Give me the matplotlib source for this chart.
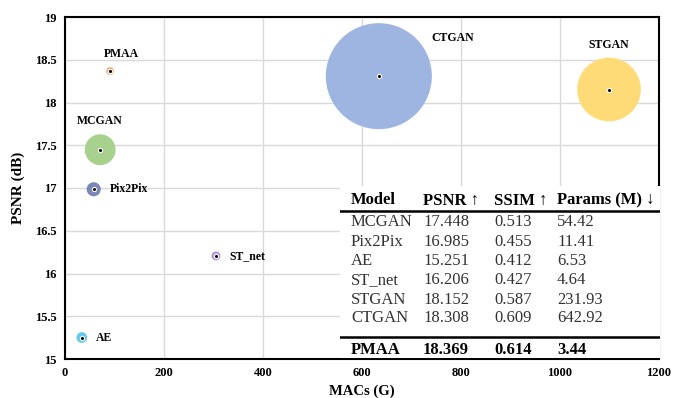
import matplotlib
matplotlib.use("Agg")
import matplotlib.pyplot as plt
import numpy as np

plt.rcParams['font.family'] = ['Liberation Serif', 'DejaVu Serif']

# bubble data: MACs (G), PSNR (dB), params (M)
models = ['MCGAN', 'Pix2Pix', 'AE', 'ST_net', 'STGAN', 'CTGAN', 'PMAA']
macs = [71, 58, 34, 305, 1099, 634, 91]
psnr = [17.448, 16.985, 15.251, 16.206, 18.152, 18.308, 18.369]
params = [54.42, 11.41, 6.53, 4.64, 231.93, 642.92, 3.44]
colors = ['#A9D18E', '#7887B5', '#62C9F1', '#B59BD9', '#FFDB78', '#9DB5E0', '#F4B183']

# table
tab_cols = ['Model', 'PSNR ↑', 'SSIM ↑', 'Params (M) ↓']
psnr_txt = ['17.448', '16.985', '15.251', '16.206', '18.152', '18.308', '18.369']
ssim_txt = ['0.513', '0.455', '0.412', '0.427', '0.587', '0.609', '0.614']
params_txt = ['54.42', '11.41', '6.53', '4.64', '231.93', '642.92', '3.44']

W, H = 680, 398
fig = plt.figure(figsize=(W/100, H/100), dpi=100)
ax = fig.add_axes([65/W, 1-359/H, 594/W, 342/H])

# label offsets in pixels, and alignment
lab_off = {'MCGAN': (0, 29, 'center'), 'Pix2Pix': (16, 0, 'left'), 'AE': (14, 0, 'left'),
           'ST_net': (13, 0, 'left'), 'STGAN': (0, 45, 'center'), 'CTGAN': (74, 38, 'center'),
           'PMAA': (11, 17, 'center')}

k = 9.06  # area per M params (pt^2)
for m, x, y, p, c in zip(models, macs, psnr, params, colors):
    ax.scatter(x, y, s=k*p, color=c, edgecolors='none', zorder=3)
    ax.scatter(x, y, s=9, color='black', edgecolors='white', linewidths=0.8, zorder=4)
    dx, dy, ha = lab_off[m]
    ax.annotate(m, (x, y), xytext=(dx, dy), textcoords='offset pixels',
                ha=ha, va='center', fontsize=8.5, fontweight='bold', zorder=5)

ax.set_xlim(0, 1200)
ax.set_ylim(15, 19)
ax.set_xticks(np.arange(0, 1201, 200))
ax.set_yticks(np.arange(15, 19.01, 0.5))
ax.set_yticklabels(['15', '15.5', '16', '16.5', '17', '17.5', '18', '18.5', '19'])
ax.grid(True, color='#D9D9D9', linewidth=1)
ax.set_axisbelow(True)
for s in ax.spines.values():
    s.set_linewidth(1.5)
ax.tick_params(length=0, labelsize=9, pad=6)
for t in ax.get_xticklabels() + ax.get_yticklabels():
    t.set_fontweight('bold')
ax.set_xlabel('MACs (G)', fontsize=10.5, fontweight='bold', labelpad=4)
ax.set_ylabel('PSNR (dB)', fontsize=11, fontweight='bold', labelpad=7)

# table overlay
tx0, tx1, ty0, ty1 = 340, 660, 186, 358
tax = fig.add_axes([tx0/W, 1-ty1/H, (tx1-tx0)/W, (ty1-ty0)/H])
tax.set_xlim(tx0, tx1)
tax.set_ylim(ty1, ty0)
tax.set_facecolor('white')
for s in tax.spines.values():
    s.set_visible(False)
tax.set_xticks([])
tax.set_yticks([])

col_x = [351, 423, 494, 557]
tsize = 12
base = 4.5  # baseline sits this many px below the row centre
for cx, h in zip(col_x, tab_cols):
    tax.text(cx, 200 + base, h, fontsize=tsize, fontweight='bold', va='baseline', ha='left')
row_y = [221.5, 241, 260.5, 280, 299, 318, 350]
for i, m in enumerate(models):
    fw = 'bold' if m == 'PMAA' else 'normal'
    cells = [m, psnr_txt[i], ssim_txt[i], params_txt[i]]
    for cx, val in zip(col_x, cells):
        tax.text(cx, row_y[i] + base, val, fontsize=tsize, fontweight=fw, va='baseline', ha='left',
                 color='black' if fw == 'bold' else '#333333')
tax.plot([tx0, tx1], [211, 211], color='black', linewidth=1.8)
tax.plot([tx0, tx1], [336.5, 336.5], color='black', linewidth=1.8)

fig.savefig('out.png', dpi=100)
